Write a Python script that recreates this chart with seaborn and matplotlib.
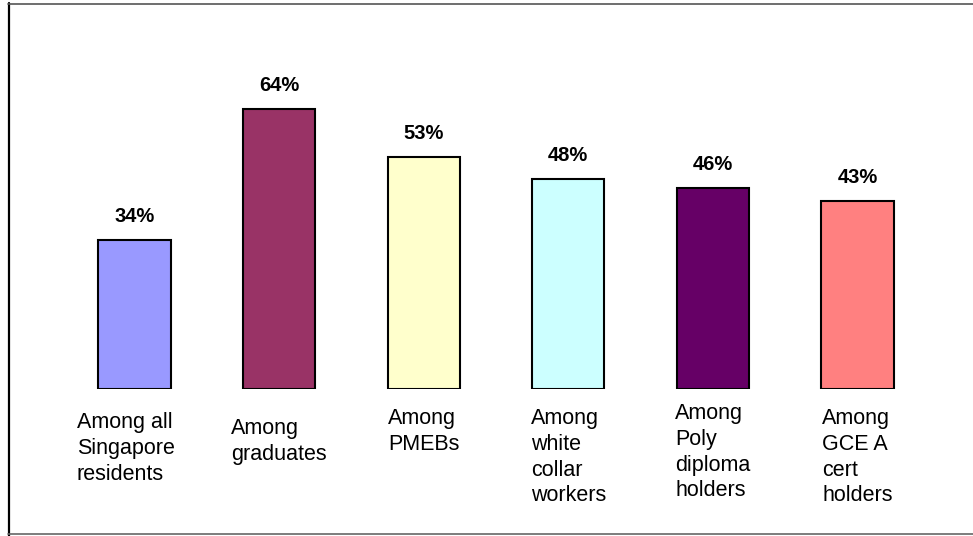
import matplotlib
matplotlib.use("Agg")
import matplotlib.pyplot as plt
from matplotlib.lines import Line2D
from matplotlib.transforms import blended_transform_factory
import pandas as pd
import seaborn as sns

categories = [
    "Among all\nSingapore\nresidents",
    "Among\ngraduates",
    "Among\nPMEBs",
    "Among\nwhite\ncollar\nworkers",
    "Among\nPoly\ndiploma\nholders",
    "Among\nGCE A\ncert\nholders",
]
values = [34, 64, 53, 48, 46, 43]
colors = ["#9999FF", "#993366", "#FFFFCC", "#CCFFFF", "#660066", "#FF8080"]

df = pd.DataFrame({"group": categories, "pct": values})

sns.set_theme(style="white")
plt.rcParams["font.family"] = ["Liberation Sans", "DejaVu Sans"]

W, H = 973, 536
fig = plt.figure(figsize=(W / 100, H / 100), dpi=100)
fig.patch.set_facecolor("white")

# plot area in pixels: bar slots 144.6 px wide, 4.37 px per percentage point
left_px, right_px = 62.2, 929.8
base_px, top_px = 389, 83.1
ax = fig.add_axes([left_px / W, (H - base_px) / H,
                   (right_px - left_px) / W, (base_px - top_px) / H])

sns.barplot(data=df, x="group", y="pct", hue="group", palette=colors,
            legend=False, width=0.5, edgecolor="black", linewidth=1.5,
            saturation=1, ax=ax)
ax.set_xlim(-0.5, 5.5)
ax.set_ylim(0, 70)
ax.axis("off")

# value labels above each bar
for i, v in enumerate(values):
    ax.annotate(f"{v}%", xy=(i, v), xytext=(0, 13), textcoords="offset points",
                ha="center", va="baseline", fontsize=14.5, fontweight="bold",
                color="black")

# category labels under the bars
trans = blended_transform_factory(ax.transData, ax.transAxes)
label_top_px = [412, 418, 408, 408, 403, 408]
label_dx_px = [-9, 0, 0, 0, 0, 0]
for i, (lab, ty, dx) in enumerate(zip(categories, label_top_px, label_dx_px)):
    ax.annotate(lab, xy=(i, (base_px - ty) / (base_px - top_px)), xycoords=trans,
                xytext=(dx * 0.72, 0), textcoords="offset points",
                ha="center", va="top", multialignment="left", fontsize=15.5,
                linespacing=1.3, color="black")

# chart frame
fig.add_artist(Line2D([8.5 / W, 8.5 / W], [0, 1 - 3 / H], transform=fig.transFigure,
                      color="black", lw=1.6))
fig.add_artist(Line2D([8 / W, 1], [1 - 3.5 / H, 1 - 3.5 / H], transform=fig.transFigure,
                      color="#555555", lw=1.2))
fig.add_artist(Line2D([8 / W, 1], [1 - 533.5 / H, 1 - 533.5 / H], transform=fig.transFigure,
                      color="#666666", lw=1.2))

fig.savefig("out.png", dpi=100, facecolor="white")
